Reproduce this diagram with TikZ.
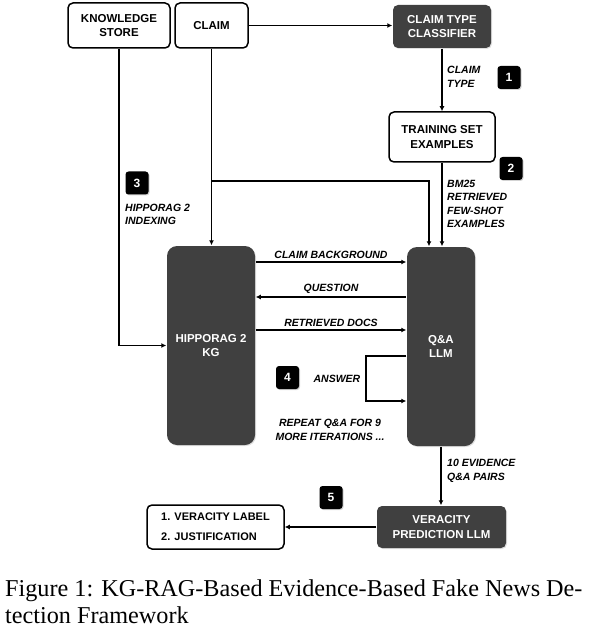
\documentclass[tikz,border=0pt]{standalone}
\usepackage{fontspec}
\setmainfont{Liberation Sans}
\newfontfamily\capfont{Liberation Serif}
\usetikzlibrary{arrows.meta,shadows}
\definecolor{darkbox}{RGB}{64,64,64}

\def\badgesize{23pt}

\begin{document}
\begin{tikzpicture}[x=1pt,y=-1pt]
		\tikzstyle{every node}=[font=\fontsize{11.5}{14.5}\selectfont\bfseries]
		\tikzstyle{box}=[rectangle,rounded corners=5pt,line width=1.5pt,align=center,inner sep=2pt]
		\tikzstyle{light box}=[box,draw=black,fill=white]
		\tikzstyle{dark box}=[box,draw=none,fill=darkbox,text=white,drop shadow={opacity=0.25,shadow xshift=1pt,shadow yshift=-1pt}]
		\tikzstyle{badge}=[rectangle,rounded corners=3pt,fill=black,text=white,minimum size=\badgesize,inner sep=0pt,font=\fontsize{12}{12}\selectfont\bfseries,drop shadow={opacity=0.35,shadow xshift=1pt,shadow yshift=-1pt}]
		\tikzstyle{annot}=[font=\fontsize{10.5}{13.5}\selectfont\bfseries\itshape,align=left,inner sep=0pt]
		\tikzstyle{arrow}=[line width=1.5pt,-{Latex[length=5pt,width=5pt]}]
		\useasboundingbox (0,0) rectangle (594,628);

			% Draw the input boxes
		\node[light box,minimum width=102pt,minimum height=45pt] (ks) at (119,25.5) {KNOWLEDGE\\STORE};
		\node[light box,minimum width=73pt,minimum height=45pt] (claim) at (211.5,25.5) {CLAIM};
		\node[dark box,minimum width=98pt,minimum height=43pt] (ctc) at (442,26.5) {CLAIM TYPE\\CLASSIFIER};
		\node[light box,minimum width=106pt,minimum height=50pt] (tse) at (442,137) {TRAINING SET\\EXAMPLES};

			% Draw the two tall boxes
		\node[dark box,rounded corners=10pt,minimum width=88pt,minimum height=199pt] (hkg) at (211,345.5) {HIPPORAG 2\\KG};
		\node[dark box,rounded corners=10pt,minimum width=68pt,minimum height=199pt] (qa) at (441,346.5) {Q\&A\\LLM};

			% Draw the output boxes
		\node[dark box,minimum width=129pt,minimum height=42pt] (vpl) at (441.5,527) {VERACITY\\PREDICTION LLM};
		\node[light box,minimum width=137pt,minimum height=44pt,align=left,font=\fontsize{11}{20}\selectfont\bfseries] (out) at (215.5,527) {1. VERACITY LABEL\\2. JUSTIFICATION};

			% Draw the numbered badges
		\foreach \name / \x / \y in {1/509/77.5, 2/511/168.5, 3/137/183, 4/287.5/377.5, 5/331/497.5}
		\node[badge] (B-\name) at (\x,\y) {\name};

			% Connect the claim with the classifier and the training set
		\draw[arrow] (claim.east) -- (claim.east -| ctc.west);
		\draw[arrow] (ctc.south) -- (tse.north);
		\node[annot,anchor=west] (ctype) at (447,77) {CLAIM\\TYPE};
		\draw[arrow] (tse.south) -- (tse.south |- qa.north);
		\node[annot,anchor=west] (bm25) at (447,204) {BM25\\RETRIEVED\\FEW-SHOT\\EXAMPLES};

			% Claim goes down to the KG and to the Q&A LLM
		\draw[arrow] (claim.south) -- (claim.south |- hkg.north);
		\coordinate (branch) at (212,181);
		\draw[arrow] (branch) -| ([xshift=-12pt]qa.north);

			% Knowledge store is indexed into the KG
		\draw[arrow] (ks.south) |- (hkg.west);
		\node[annot,anchor=west] (index) at (125,214.5) {HIPPORAG 2\\INDEXING};

			% Exchange between the KG and the Q&A LLM
		\foreach \y / \txt / \dir in {262/CLAIM BACKGROUND/->, 297/QUESTION/<-, 330/RETRIEVED DOCS/->}
		\draw[line width=1.5pt,\dir,>={Latex[length=5pt,width=5pt]}] (hkg.east |- 0,\y) -- node[annot,above=3pt] {\txt} (qa.west |- 0,\y);

			% Answer loop
		\coordinate (loop-a) at (366,356);
		\coordinate (loop-b) at (366,401);
		\draw[arrow] (qa.west |- loop-a) -- (loop-a) -- node[annot,left=5pt] (ans) {ANSWER} (loop-b) -- (qa.west |- loop-b);
		\node[annot,align=center] (repeat) at (330,430) {REPEAT Q\&A FOR 9\\MORE ITERATIONS ...};

			% Evidence goes to the veracity prediction
		\draw[arrow] (qa.south) -- (qa.south |- vpl.north);
		\node[annot,anchor=west] (evid) at (447,471) {10 EVIDENCE\\Q\&A PAIRS};
		\draw[arrow] (vpl.west) -- (out.east);

			% Caption
		\node[anchor=base west,align=left,inner sep=0pt,font=\capfont\fontsize{24.2}{27}\selectfont] (cap) at (5,623) {Figure 1: KG-RAG-Based Evidence-Based Fake News De-\\tection Framework};
		\end{tikzpicture}
\end{document}
